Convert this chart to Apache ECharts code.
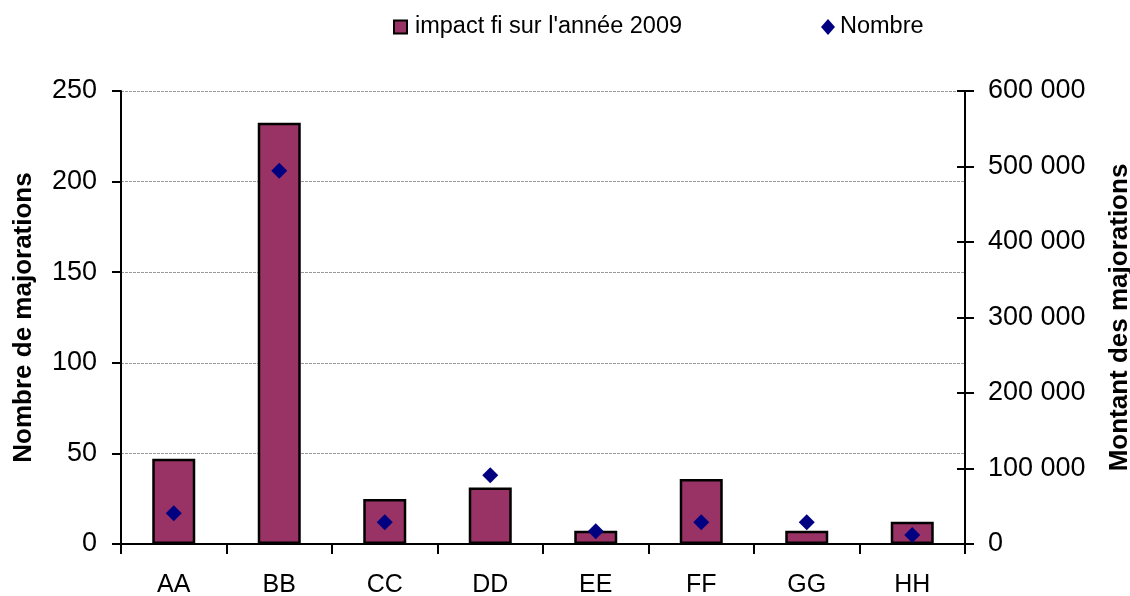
<!DOCTYPE html>
<html>
<head>
<meta charset="utf-8">
<script src="https://cdn.jsdelivr.net/npm/echarts@6/dist/echarts.min.js"></script>
<style>
html, body { margin:0; padding:0; background:#fff; }
#chart { width:1130px; height:596px; }
</style>
</head>
<body>
<div id="chart"></div>
<script>
var categories = ['AA', 'BB', 'CC', 'DD', 'EE', 'FF', 'GG', 'HH'];
// montant (axe de droite)
var impactValues = [113000, 558000, 59500, 75000, 17500, 86000, 17500, 29500];
// nombre (axe de gauche)
var nombreValues = [17, 206, 12, 38, 7, 12, 12, 5];
var leftTicks = [0, 250, 50];      // min, max, interval
var rightTicks = [0, 600000, 100000];

var FONT = "'Liberation Sans', Arial, sans-serif";
var barName = "impact fi sur l'année 2009";

function fmtSpace(v){
	return String(v).replace(/\B(?=(\d{3})+(?!\d))/g, ' ');
}

var chart = echarts.init(document.getElementById('chart'));

var option = {
	animation: false,
	textStyle: { fontFamily: FONT },
	legend: [
		{
			data: [barName],
			left: 388, top: 10,
			icon: 'rect', itemWidth: 13, itemHeight: 13,
			textStyle: { fontFamily: FONT, fontSize: 23.5, color: '#000', padding: [0,0,0,3] }
		},
		{
			data: ['Nombre'],
			left: 816, top: 10,
			icon: 'diamond', itemWidth: 14, itemHeight: 16,
			textStyle: { fontFamily: FONT, fontSize: 23.5, color: '#000' }
		}
	],
	grid: { left: 121, right: 165, top: 91, bottom: 52, outerBoundsMode: 'none', containLabel: false },
	xAxis: {
		type: 'category',
		data: categories,
		axisLine: { lineStyle: { color: '#000', width: 2 } },
		axisTick: { show: true, length: 10, lineStyle: { color: '#000', width: 2 } },
		axisLabel: { color: '#000', fontSize: 25, fontFamily: FONT, margin: 29 }
	},
	yAxis: [
		{
			type: 'value',
			min: leftTicks[0], max: leftTicks[1], interval: leftTicks[2],
			name: 'Nombre de majorations',
			nameLocation: 'middle', nameGap: 84,
			nameTextStyle: { fontSize: 26, fontWeight: 'bold', color: '#000', fontFamily: FONT },
			axisLine: { show: true, lineStyle: { color: '#000', width: 2 } },
			axisTick: { show: true, length: 9, lineStyle: { color: '#000', width: 2 } },
			axisLabel: { color: '#000', fontSize: 27, fontFamily: FONT, margin: 24 },
			splitLine: { show: true, lineStyle: { color: '#999', width: 1, type: [3, 1] } }
		},
		{
			type: 'value',
			position: 'right',
			min: rightTicks[0], max: rightTicks[1], interval: rightTicks[2],
			name: 'Montant des majorations',
			nameLocation: 'middle', nameGap: 142,
			nameTextStyle: { fontSize: 26, fontWeight: 'bold', color: '#000', fontFamily: FONT },
			axisLine: { show: true, lineStyle: { color: '#000', width: 2 } },
			axisTick: { show: true, length: 9, lineStyle: { color: '#000', width: 2 } },
			axisLabel: { color: '#000', fontSize: 27, fontFamily: FONT, margin: 23,
				formatter: function(v){ return fmtSpace(v); } },
			splitLine: { show: false }
		},
		{
			// ticks on the inner side of the right axis (cross ticks)
			type: 'value',
			position: 'right',
			min: rightTicks[0], max: rightTicks[1], interval: rightTicks[2],
			axisLine: { show: false },
			axisTick: { show: true, inside: true, length: 8, lineStyle: { color: '#000', width: 2 } },
			axisLabel: { show: false },
			splitLine: { show: false }
		}
	],
	series: [
		{
			name: barName,
			type: 'bar',
			yAxisIndex: 1,
			data: impactValues,
			barWidth: 43,
			itemStyle: { color: '#993366', borderColor: '#000', borderWidth: 2.5 }
		},
		{
			name: 'Nombre',
			type: 'scatter',
			yAxisIndex: 0,
			data: nombreValues,
			symbol: 'diamond',
			symbolSize: [16, 16],
			itemStyle: { color: '#000080', opacity: 1 },
			z: 5
		}
	]
};

chart.setOption(option);
</script>
</body>
</html>
